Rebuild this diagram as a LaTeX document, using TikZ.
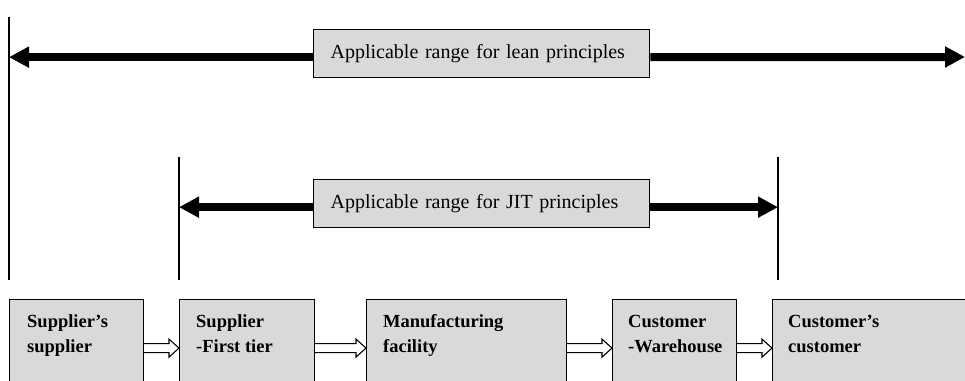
\documentclass[tikz,border=0pt]{standalone}
\usepackage{fontspec}
\setmainfont{Liberation Serif}
\usetikzlibrary{arrows.meta,calc}
\definecolor{boxgray}{HTML}{D9D9D9}
% hollow block arrow from the east side of #1 to the west side of #2
\newcommand\flowarrow[2]{%
  \draw[flow] ($(#1.east)+(0,-4.5)$) -- ($(#2.west)+(-10,-4.5)$)
    -- ($(#2.west)+(-10,-9)$) -- (#2.west) -- ($(#2.west)+(-10,9)$)
    -- ($(#2.west)+(-10,4.5)$) -- ($(#1.east)+(0,4.5)$);}
\begin{document}
\begin{tikzpicture}[x=1pt,y=-1pt,
  rangebox/.style={draw=black, line width=1.3pt, fill=boxgray,
    text width=302pt, inner xsep=17pt, inner ysep=0pt, minimum height=48pt,
    align=left, font=\fontsize{20}{24}\selectfont, anchor=north west},
  stage/.style={draw=black, line width=1.2pt, fill=boxgray,
    minimum height=97pt, inner sep=0pt, anchor=north west},
  stagetext/.style={font=\fontsize{18.5}{25}\selectfont\bfseries,
    align=left, inner sep=0pt, anchor=base west},
  rangeline/.style={line width=1.5pt},
  rangearrow/.style={line width=8pt, -{Triangle[length=20pt,width=20pt]}},
  flow/.style={line width=1.1pt, line join=miter}
]
\useasboundingbox (0,0) rectangle (965,380);
\clip (0,0) rectangle (965,380);

% range markers
\coordinate (leantop) at (9,17);
\coordinate (leanbot) at (9,280);
\coordinate (jitLtop) at (179,157);
\coordinate (jitLbot) at (179,280);
\coordinate (jitRtop) at (778,157);
\coordinate (jitRbot) at (778,280);
\coordinate (leanend) at (965,57);
\draw[rangeline] (leantop) -- (leanbot);
\draw[rangeline] (jitLtop) -- (jitLbot);
\draw[rangeline] (jitRtop) -- (jitRbot);

% lean range
\node[rangebox] (lean) at (313,29) {Applicable range for lean principles};
\draw[rangearrow] ($(lean.west)+(0,3.5)$) -- ($(lean.west -| leantop)+(0,3.5)$);
\draw[rangearrow] ($(lean.east)+(0,3.5)$) -- (leanend);

% JIT range
\node[rangebox] (jit) at (313,179) {Applicable range for JIT principles};
\draw[rangearrow] ($(jit.west)+(0,3.5)$) -- ($(jit.west -| jitLtop)+(0,3.5)$);
\draw[rangearrow] ($(jit.east)+(0,3.5)$) -- ($(jit.east -| jitRtop)+(0,3.5)$);

% supply chain stages
\node[stage, minimum width=134pt] (s1) at (9,299) {};
\node[stage, minimum width=135pt] (s2) at (179,299) {};
\node[stage, minimum width=200pt] (s3) at (366,299) {};
\node[stage, minimum width=124pt] (s4) at (612,299) {};
\node[stage, minimum width=230pt] (s5) at (772,299) {};
\node[stagetext] (t1) at (27,352) {Supplier’s\\supplier};
\node[stagetext] (t2) at (196,352) {Supplier\\-First tier};
\node[stagetext] (t3) at (383,352) {Manufacturing\\facility};
\node[stagetext] (t4) at (628,352) {Customer\\-Warehouse};
\node[stagetext] (t5) at (788,352) {Customer’s\\customer};

\flowarrow{s1}{s2}
\flowarrow{s2}{s3}
\flowarrow{s3}{s4}
\flowarrow{s4}{s5}
\end{tikzpicture}
\end{document}
